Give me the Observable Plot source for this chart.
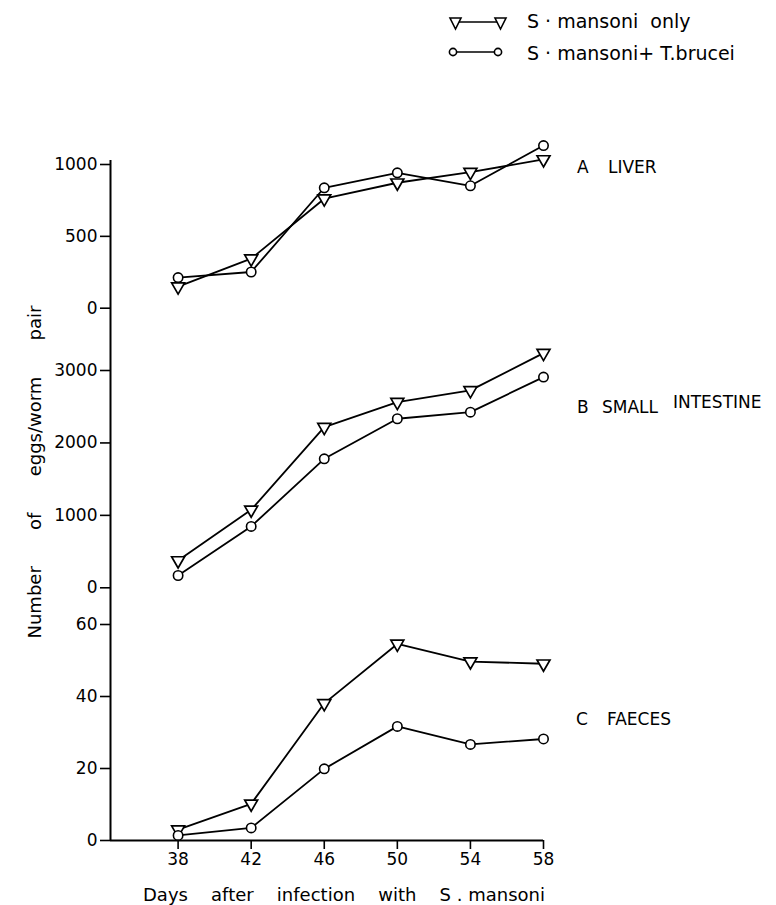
<!DOCTYPE html>
<html>
<head>
<meta charset="utf-8">
<script src="https://cdn.jsdelivr.net/npm/d3@7"></script>
<script src="https://cdn.jsdelivr.net/npm/@observablehq/plot@0.6"></script>
<style>
  html, body { margin: 0; padding: 0; background: white; }
  #wrap { position: relative; width: 776px; height: 905px; font-family: "DejaVu Sans", sans-serif; color: black; overflow: hidden; }
  #wrap svg.plotsvg { position: absolute; left: 0; top: 0; }
  .lbl { position: absolute; white-space: pre; line-height: normal; }
</style>
</head>
<body>
<div id="wrap"></div>
<script>
// ---- data ----
const days = [38, 42, 46, 50, 54, 58];
const dayTicks = [38, 42, 46, 50, 54, 58];
const xStart = 34.3;

const liverOnly = [150, 345, 762, 873, 947, 1035];
const liverMixed = [213, 252, 838, 942, 852, 1132];
const liverTicks = [0, 500, 1000];

const intestineOnly = [377, 1077, 2218, 2563, 2725, 3240];
const intestineMixed = [170, 847, 1781, 2334, 2425, 2909];
const intestineTicks = [0, 1000, 2000, 3000];

const faecesOnly = [3.0, 10.2, 38.1, 54.6, 49.7, 49.1];
const faecesMixed = [1.4, 3.5, 19.9, 31.7, 26.7, 28.2];
const faecesTicks = [0, 20, 40, 60];

const seriesNames = ["S · mansoni  only", "S · mansoni+ T.brucei"];
const panelNames = ["A", "LIVER", "B", "SMALL", "INTESTINE", "C", "FAECES"];

const W = 776, H = 905;
const wrap = document.getElementById("wrap");

function panel(only, mixed, yDomain, yTicks, top, bottom, extra, showX) {
  const rows = days.map((d, i) => ({day: d, only: only[i], mixed: mixed[i]}));
  const svg = Plot.plot({
    width: W, height: H,
    marginLeft: 110, marginRight: 233,
    marginTop: top, marginBottom: H - bottom,
    x: {domain: [xStart, 58], axis: showX ? undefined : null},
    y: {domain: yDomain},
    style: {background: "transparent", overflow: "visible", fontFamily: "DejaVu Sans, sans-serif", fontSize: "17px", color: "black"},
    marks: [
      Plot.axisY({ticks: yTicks, tickSize: 10, tickPadding: 3, tickFormat: d3.format("d"), label: null, strokeWidth: 1.6}),
      ...(showX ? [Plot.axisX({ticks: dayTicks, tickSize: 9, tickPadding: 3, tickFormat: d3.format("d"), label: null, strokeWidth: 1.6})] : []),
      ...extra,
      Plot.line(rows, {x: "day", y: "only", stroke: "black", strokeWidth: 1.8}),
      Plot.line(rows, {x: "day", y: "mixed", stroke: "black", strokeWidth: 1.8}),
      Plot.dot(rows, {x: "day", y: "only", symbol: "triangle", rotate: 180, r: 4.8, fill: "white", stroke: "black", strokeWidth: 1.7}),
      Plot.dot(rows, {x: "day", y: "mixed", symbol: "circle", r: 4.7, fill: "white", stroke: "black", strokeWidth: 1.6})
    ]
  });
  svg.classList.add("plotsvg");
  wrap.appendChild(svg);
}

panel(liverOnly, liverMixed, [0, 1000], liverTicks, 164, 307.7, [], false);
panel(intestineOnly, intestineMixed, [0, 3000], intestineTicks, 370, 587.3, [], false);
panel(faecesOnly, faecesMixed, [0, 60], faecesTicks, 624, 840, [
  Plot.ruleX([xStart], {stroke: "black", strokeWidth: 2, insetTop: -(624 - 160)}),
  Plot.ruleY([0], {stroke: "black", strokeWidth: 2})
], true);

// ---- legend ----
const legend = document.createElementNS("http://www.w3.org/2000/svg", "svg");
legend.setAttribute("width", W); legend.setAttribute("height", 80);
legend.setAttribute("style", "position:absolute;left:0;top:0;overflow:visible");
legend.innerHTML = `
  <g stroke="black" stroke-width="1.6" fill="white">
    <line x1="455" y1="22" x2="500" y2="22"/>
    <polygon points="450,18 461,18 455.5,29"/>
    <polygon points="495,18 506,18 500.5,29"/>
    <line x1="453" y1="52" x2="498" y2="52"/>
    <circle cx="453" cy="52" r="3.6"/>
    <circle cx="498" cy="52" r="3.6"/>
  </g>`;
wrap.appendChild(legend);

function label(text, left, baseline, size, extraStyle) {
  const d = document.createElement("div");
  d.className = "lbl";
  d.textContent = text;
  d.style.left = left + "px";
  d.style.top = (baseline - 0.928 * size) + "px";
  d.style.fontSize = size + "px";
  if (extraStyle) Object.assign(d.style, extraStyle);
  wrap.appendChild(d);
  return d;
}
label(seriesNames[0], 527, 28, 19);
label(seriesNames[1], 527, 60, 19);

// panel labels
label(panelNames[0], 577, 173, 17);
label(panelNames[1], 608, 173, 17);
label(panelNames[2], 577, 413, 17);
label(panelNames[3], 602, 413, 17);
label(panelNames[4], 673, 408, 17);
label(panelNames[5], 576, 725, 17);
label(panelNames[6], 607, 725, 17);

// x title
const xt = document.createElement("div");
xt.className = "lbl";
Object.assign(xt.style, {left: "143px", top: (901 - 0.928 * 18) + "px", width: "402px", fontSize: "18px", display: "flex", justifyContent: "space-between"});
["Days", "after", "infection", "with", "S . mansoni"].forEach(w => {
  const s = document.createElement("span"); s.textContent = w; xt.appendChild(s);
});
wrap.appendChild(xt);

// y title
const yt = document.createElement("div");
yt.className = "lbl";
const ytW = 333, ytH = 22;
Object.assign(yt.style, {left: (34 - ytW / 2) + "px", top: (471.5 - ytH / 2) + "px", width: ytW + "px", height: ytH + "px", lineHeight: ytH + "px", fontSize: "18px", display: "flex", justifyContent: "space-between", transform: "rotate(-90deg)", transformOrigin: "50% 50%"});
["Number", "of", "eggs/worm", "pair"].forEach(w => {
  const s = document.createElement("span"); s.textContent = w; yt.appendChild(s);
});
wrap.appendChild(yt);
</script>
</body>
</html>
